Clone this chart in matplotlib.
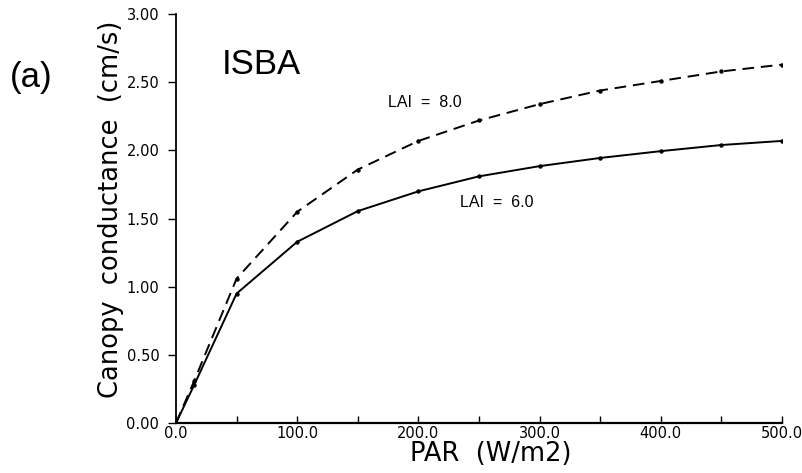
import numpy as np
from matplotlib import pyplot as plt

# values
par = [0, 15, 50, 100, 150, 200, 250, 300, 350, 400, 450, 500]
lai6 = [0.0, 0.28, 0.95, 1.33, 1.555, 1.70, 1.81, 1.885, 1.945, 1.995, 2.04, 2.07]
lai8 = [0.0, 0.31, 1.06, 1.55, 1.86, 2.07, 2.22, 2.34, 2.44, 2.51, 2.58, 2.63]

xticks = [0, 100, 200, 300, 400, 500]
yticks = [0.0, 0.5, 1.0, 1.5, 2.0, 2.5, 3.0]


def main():
    plt.rcParams['font.family'] = ['DejaVu Sans']

    fig = plt.figure(figsize=(8.02, 4.73), dpi=100)
    ax = fig.add_axes([0.2195, 0.1057, 0.7555, 0.8643])

    ax.plot(par, lai6, color='black', lw=1.4, marker='o', ms=2.2)
    ax.plot(par, lai8, color='black', lw=1.4, marker='o', ms=2.2,
            dashes=(6, 3.5))

    ax.set_xlim(0, 500)
    ax.set_ylim(0, 3.0)
    ax.spines['top'].set_visible(False)
    ax.spines['right'].set_visible(False)
    ax.spines['left'].set_linewidth(1.3)
    ax.spines['bottom'].set_linewidth(1.6)

    xt = np.arange(0, 501, 50)
    ax.set_xticks(xt)
    ax.set_xticklabels(['%.1f' % v if v in xticks else '' for v in xt])
    ax.tick_params(axis='x', direction='in', length=5, width=1, pad=2, labelsize=10.5)
    ax.set_yticks(yticks)
    ax.set_yticklabels(['%.2f' % v for v in yticks])
    ax.tick_params(axis='y', direction='out', length=6, width=1, pad=6, labelsize=10.5)

    ax.set_xlabel("PAR  (W/m2)", fontsize=18.5, labelpad=0)
    ax.xaxis.label.set_x(0.52)
    ax.set_ylabel("Canopy  conductance  (cm/s)", fontsize=18.5, labelpad=2)
    ax.yaxis.label.set_y(0.523)

    ax.text(175, 2.35, "LAI  =  8.0", fontsize=11.5, family='Liberation Sans', va='center')
    ax.text(234, 1.62, "LAI  =  6.0", fontsize=11.5, family='Liberation Sans', va='center')
    ax.text(0.140, 0.876, "ISBA", transform=ax.transAxes, fontsize=25,
            family='Liberation Sans', ha='center', va='center')
    fig.text(0.039, 0.836, "(a)", fontsize=25, family='Liberation Sans',
             ha='center', va='center')

    fig.savefig("out.png", dpi=100)


if __name__ == "__main__":
    main()
